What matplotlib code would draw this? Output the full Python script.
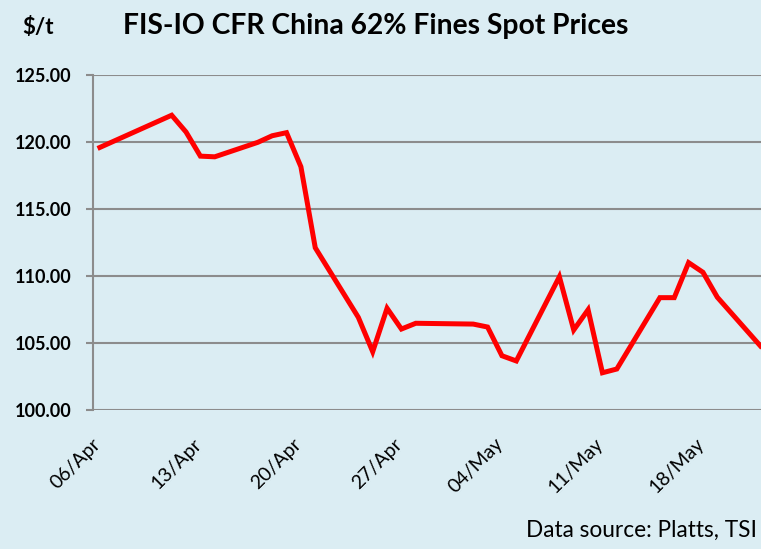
import pandas as pd
import matplotlib
matplotlib.use("Agg")
import matplotlib.pyplot as plt
from matplotlib.transforms import ScaledTranslation

# spot prices, $/t
dates = ["2023-04-06", "2023-04-11", "2023-04-12", "2023-04-13", "2023-04-14",
         "2023-04-17", "2023-04-18", "2023-04-19", "2023-04-20", "2023-04-21",
         "2023-04-24", "2023-04-25", "2023-04-26", "2023-04-27", "2023-04-28",
         "2023-05-02", "2023-05-03", "2023-05-04", "2023-05-05", "2023-05-08",
         "2023-05-09", "2023-05-10", "2023-05-11", "2023-05-12", "2023-05-15",
         "2023-05-16", "2023-05-17", "2023-05-18", "2023-05-19", "2023-05-22"]
prices = [119.60, 122.00, 120.75, 118.95, 118.90,
          119.98, 120.47, 120.70, 118.16, 112.12,
          106.93, 104.37, 107.61, 106.06, 106.49,
          106.43, 106.21, 104.07, 103.68, 109.96,
          105.99, 107.50, 102.80, 103.08, 108.40,
          108.40, 111.01, 110.29, 108.43, 104.80]
tick_dates = ["2023-04-06", "2023-04-13", "2023-04-20", "2023-04-27",
              "2023-05-04", "2023-05-11", "2023-05-18"]
tick_labels = ["06/Apr", "13/Apr", "20/Apr", "27/Apr", "04/May", "11/May", "18/May"]
y_ticks = [100, 105, 110, 115, 120, 125]

bg = "#dbedf3"
grid_col = "#8c8c8c"
plt.rcParams["font.family"] = ["Lato", "DejaVu Sans"]

fig = plt.figure(figsize=(7.61, 5.49), dpi=100, facecolor=bg)
ax = fig.add_axes([0.1218, 0.2526, 0.8782, 0.6108], facecolor=bg)

x = pd.to_datetime(dates)
ax.plot(x, prices, color="#ff0000", lw=3.6, solid_joinstyle="miter", zorder=3)

start = pd.Timestamp("2023-04-06") - pd.Timedelta(hours=12)
end = pd.Timestamp("2023-05-22") + pd.Timedelta(hours=1)
ax.set_xlim(start, end)
ax.set_ylim(100, 125)

ax.set_yticks(y_ticks)
ax.set_yticklabels(["%.2f" % v for v in y_ticks], fontsize=13, fontweight="bold")
ax.yaxis.grid(True, color=grid_col, lw=1.5)
ax.tick_params(axis="y", length=5, width=1.5, color=grid_col, pad=10)

ax.set_xticks(pd.to_datetime(tick_dates))
ax.set_xticklabels(tick_labels, rotation=45, ha="right", va="top", fontsize=14)
ax.tick_params(axis="x", length=0, pad=18)
off = ScaledTranslation(3 / 72, 0, fig.dpi_scale_trans)
for lbl in ax.get_xticklabels():
    lbl.set_transform(lbl.get_transform() + off)

for s in ["top", "right", "bottom"]:
    ax.spines[s].set_visible(False)
ax.spines["left"].set_color(grid_col)
ax.spines["left"].set_linewidth(1.5)

fig.text(0.494, 0.938, "FIS-IO CFR China 62% Fines Spot Prices",
         ha="center", va="baseline", fontsize=20.3, fontweight="bold")
fig.text(0.029, 0.938, "$/t", ha="left", va="baseline", fontsize=16, fontweight="bold")
fig.text(0.995, 0.022, "Data source: Platts, TSI", ha="right", va="baseline", fontsize=16.3)

fig.savefig("out.png", dpi=100, facecolor=bg)
